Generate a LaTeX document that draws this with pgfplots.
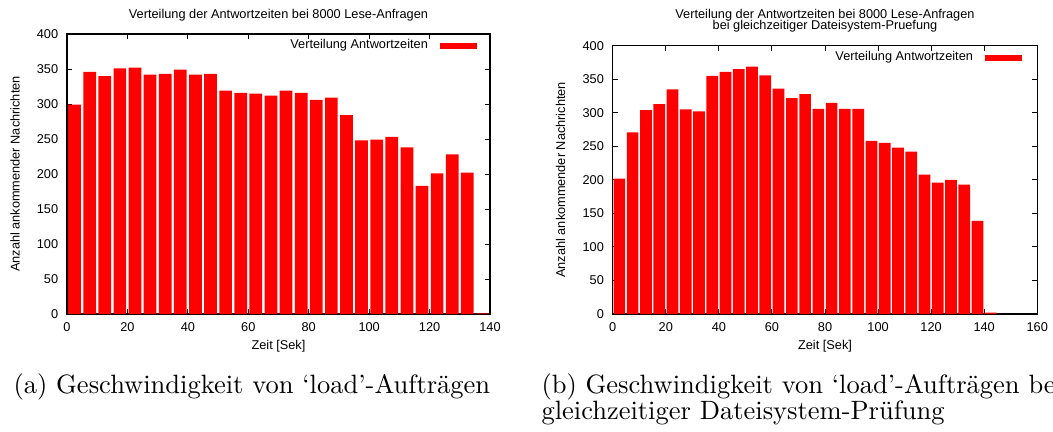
\documentclass[border=0pt]{standalone}
\usepackage{fontspec}
\usepackage{pgfplots}
\pgfplotsset{compat=1.18}
\newfontfamily\arial{Liberation Sans}
\newcommand\gfont{\arial\fontsize{5.1}{5.1}\selectfont}

\pgfplotstableread{
x y
2.5 299
7.5 346
12.5 340
17.5 351
22.5 352
27.5 342
32.5 343
37.5 349
42.5 342
47.5 343
52.5 319
57.5 316
62.5 315
67.5 312
72.5 319
77.5 316
82.5 306
87.5 309
92.5 284
97.5 248
102.5 249
107.5 253
112.5 238
117.5 183
122.5 201
127.5 228
132.5 202
137.5 1
}\dataA

\pgfplotstableread{
x y
2.5 202
7.5 271
12.5 304
17.5 313
22.5 335
27.5 305
32.5 302
37.5 355
42.5 361
47.5 365
52.5 369
57.5 356
62.5 336
67.5 322
72.5 328
77.5 306
82.5 315
87.5 306
92.5 306
97.5 258
102.5 255
107.5 248
112.5 242
117.5 208
122.5 196
127.5 200
132.5 193
137.5 139
142.5 2
}\dataB

\begin{document}
\begin{tikzpicture}
\useasboundingbox (0,0) rectangle (421.2pt,172.4pt);
\pgfplotsset{
  gstyle/.style={
    scale only axis,
    anchor=south west,
    ybar,
    ymin=0, ymax=400,
    xmin=0,
    ytick={0,50,...,400},
    tick align=inside,
    major tick length=2pt,
    tick style={black, line width=0.4pt},
    axis line style={line width=0.5pt},
    /pgf/number format/assume math mode=true,
    tick label style={font=\gfont},
    label style={font=\gfont},
    every axis title shift=0pt,
    title style={font=\gfont, align=center},
    xlabel={Zeit [Sek]},
    ylabel={Anzahl ankommender Nachrichten},
    legend plot pos=right,
    legend image code/.code={\fill[red] (0pt,-1.2pt) rectangle (14.8pt,1.2pt);},
    clip=true,
  },
  gbar/.style={fill=red, draw=none},
}
\begin{axis}[gstyle,
  at={(26.8pt,46.8pt)},
  width=169.2pt, height=112pt,
  xmax=140,
  xtick={0,20,...,140},
  bar width=4.2,
  title={Verteilung der Antwortzeiten bei 8000 Lese-Anfragen},
  title style={at={(axis description cs:0.5,1.068)}, anchor=center},
  xlabel style={at={(axis description cs:0.5,-0.114)}, anchor=center},
  ylabel style={at={(axis description cs:-0.123,0.5)}, anchor=center},
  legend style={draw=none, fill=none, inner sep=0pt, outer sep=0pt,
    at={(axis description cs:0.969,0.982)}, anchor=north east,
    font=\gfont, nodes={inner sep=0pt}, column sep=4.8pt},
]
\addplot[gbar] table[x=x,y=y] {\dataA};
\addlegendentry{Verteilung Antwortzeiten}
\end{axis}

\begin{axis}[gstyle,
  at={(245.1pt,46.8pt)},
  width=169.8pt, height=107.3pt,
  xmax=160,
  xtick={0,20,...,160},
  bar width=4.4,
  title={Verteilung der Antwortzeiten bei 8000 Lese-Anfragen\\[-0.6pt]bei gleichzeitiger Dateisystem-Pruefung},
  title style={at={(axis description cs:0.5,1.092)}, anchor=center},
  xlabel style={at={(axis description cs:0.5,-0.119)}, anchor=center},
  ylabel style={at={(axis description cs:-0.123,0.5)}, anchor=center},
  legend style={draw=none, fill=none, inner sep=0pt, outer sep=0pt,
    at={(axis description cs:0.964,0.980)}, anchor=north east,
    font=\gfont, nodes={inner sep=0pt}, column sep=4.8pt},
]
\addplot[gbar] table[x=x,y=y] {\dataB};
\addlegendentry{Verteilung Antwortzeiten}
\end{axis}

\node[anchor=base west, inner sep=0pt, font=\fontsize{10.6}{12}\selectfont] at (5.2pt,15.2pt) {(a) Geschwindigkeit von ‘load’-Aufträgen};
\node[anchor=base west, inner sep=0pt, font=\fontsize{10.6}{12}\selectfont] at (216.4pt,15.2pt) {(b) Geschwindigkeit von ‘load’-Aufträgen bei};
\node[anchor=base west, inner sep=0pt, font=\fontsize{10.6}{12}\selectfont] at (216.4pt,4.8pt) {gleichzeitiger Dateisystem-Prüfung};
\end{tikzpicture}
\end{document}
